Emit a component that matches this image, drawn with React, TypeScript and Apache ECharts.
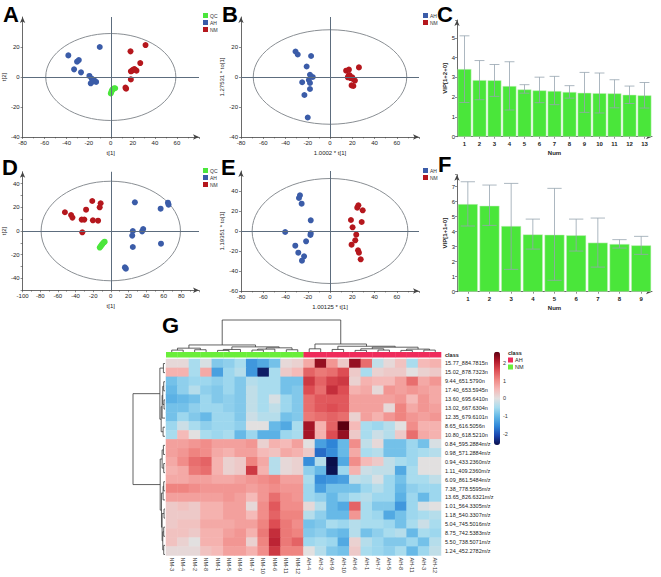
import React, { useEffect, useRef } from "react";
import * as echarts from "echarts";

const FONT = "'Liberation Sans', Arial, sans-serif";
const COL_QC = "#4be63c";
const COL_AH = "#3b5ca8";
const COL_NM = "#b5171d";
const AXIS_COL = "#444";

// ---------- Panel A (PCA) ----------
const A_QC = [[0, -11], [0.5, -10], [1, -9], [1.5, -8.5], [2, -8], [3, -7.5], [4, -7.5]];
const A_AH = [[-10, 20], [-38.5, 14.4], [-29, 11.3], [-30.6, 10.2], [-33.3, 5.1], [-27, 3.1], [-19.4, 0.7], [-17.3, -1.1], [-15.2, -2], [-13.3, -3.3], [-18.2, -4.2], [-16, -3]];
const A_NM = [[31.5, 21.3], [17.9, 17.1], [26.7, 9.3], [20, 4.7], [18.2, 3.8], [23.3, 4.2], [21.2, 5.3], [18.2, -1.6], [13.3, -7.1], [13.9, -7.8], [19, 4], [22, 5]];
const A_ELLIPSE = [59, 29];

// ---------- Panel B (OPLS-DA) ----------
const B_AH = [[-31, 17], [-29, 15], [-17, 14], [-21, 7], [-18, 1.5], [-15.5, 0], [-25, -3.5], [-19, -2], [-18, -4], [-18, -8], [-23, -12], [-20, -27]];
const B_NM = [[14.5, 4.2], [17, 4.9], [26, 6.4], [16.7, 0.7], [18.5, -0.7], [20.6, -1.3], [22.4, -2.4], [19.4, -5.6], [21, -6], [16, -0.2], [20, -0.2], [17.5, 1.3]];
const B_ELLIPSE = [69, 31.5];

// ---------- Panel C (VIP) ----------
const C_NUM = ["1", "2", "3", "4", "5", "6", "7", "8", "9", "10", "11", "12", "13"];
const C_VIP = [3.42, 2.86, 2.85, 2.56, 2.39, 2.34, 2.31, 2.26, 2.22, 2.2, 2.19, 2.12, 2.09];
const C_LOW = [1.73, 1.87, 2.04, 1.35, 2.2, 1.72, 1.62, 1.95, 1.23, 1.2, 1.46, 1.68, 1.45];
const C_HIGH = [5.1, 3.85, 3.65, 3.79, 2.63, 3.01, 3.05, 2.58, 3.25, 3.22, 2.88, 2.56, 2.74];

// ---------- Panel D (PCA) ----------
const D_QC = [[-12.5, -14], [-11.5, -13], [-10.5, -12], [-9.5, -11], [-8.5, -10], [-7.5, -9.5], [-7, -9]];
const D_AH = [[27.3, 24.2], [56.5, 18.8], [64.8, 23.9], [65.5, 22.2], [25, 0], [24.3, -3.9], [36.7, 1.7], [35.5, -0.3], [56.9, -10.7], [25, -13.5], [16, -30.7], [17.1, -31.8]];
const D_NM = [[-52, 15.8], [-45, 13.5], [-43.5, 11.3], [-28, 18], [-21, 25.3], [-33, 9.6], [-30, 9.6], [-20.3, 9], [-14.4, 8.7], [-12.6, 20], [-11.5, 23.4], [-32.3, -1.1]];
const D_ELLIPSE = [79, 42];

// ---------- Panel E (OPLS-DA) ----------
const E_AH = [[-27, 35.7], [-27.9, 33], [-25.5, 27.3], [-17.3, 10.7], [-17.3, -2.3], [-17.6, -4], [-21.5, -10.3], [-40.3, -1], [-31.2, -14.7], [-28.5, -21.7], [-23.3, -25.3], [-25.2, -29.7]];
const E_NM = [[25.5, 25.7], [24.5, 23.3], [29.4, 20.7], [18.8, 11], [28.5, 9], [20.3, 3.7], [23.6, -3.7], [22.7, -9.3], [19.4, -13.7], [25.2, -19.3], [26, -21.7], [27.6, -28.3]];
const E_ELLIPSE = [70, 52.5];

// ---------- Panel F (VIP) ----------
const F_NUM = ["1", "2", "3", "4", "5", "6", "7", "8", "9"];
const F_VIP = [5.84, 5.73, 4.38, 3.82, 3.8, 3.76, 3.27, 3.18, 3.09];
const F_LOW = [4.38, 4.42, 1.49, 2.84, 0.76, 2.71, 1.64, 2.91, 2.49];
const F_HIGH = [7.33, 7.11, 7.22, 4.84, 6.89, 4.84, 4.91, 3.47, 3.69];

// ---------- Panel G (heatmap) ----------
const G_SAMPLES = ["NM-3", "NM-4", "NM-2", "NM-8", "NM-1", "NM-5", "NM-9", "NM-7", "NM-10", "NM-6", "NM-11", "NM-12",
  "AH-4", "AH-2", "AH-9", "AH-10", "AH-6", "AH-1", "AH-7", "AH-5", "AH-8", "AH-11", "AH-3", "AH-12"];
const G_CLASS = ["NM", "NM", "NM", "NM", "NM", "NM", "NM", "NM", "NM", "NM", "NM", "NM",
  "AH", "AH", "AH", "AH", "AH", "AH", "AH", "AH", "AH", "AH", "AH", "AH"];
const G_FEATURES = ["15.77_884.7815n", "15.02_878.7323n", "9.44_651.5790n", "17.40_653.5945n", "13.60_695.6410n",
  "13.02_667.6304n", "12.35_679.6101n", "8.65_616.5056n", "10.80_618.5210n", "0.84_595.2884m/z", "0.98_571.2884m/z",
  "0.94_433.2360m/z", "1.11_409.2360m/z", "6.09_861.5484m/z", "7.38_778.5595m/z", "13.65_826.6321m/z",
  "1.01_564.3305m/z", "1.18_540.3307m/z", "5.04_745.5016m/z", "8.75_742.5383m/z", "5.50_738.5071m/z", "1.24_452.2782m/z"];
const G_VALUES = [
  [0.1, 0.1, -0.5, -0.1, -0.8, -0.7, -0.5, -1.4, -1.2, -0.9, 0.1, 0.2, 0.7, 2.3, 0.9, 0.3, 2.3, 1.3, -0.3, 0.1, 0.4, -0.5, 0.5, 0.6],
  [0.6, 0.6, -0.5, 0.7, -1.3, -0.6, -0.4, -1.4, -2.5, -0.5, 0.3, 0.5, 1.4, 1.2, 1.3, 1.6, 0.3, -0.5, 0.2, 0.3, 0.3, 0.0, 0.2, 0.3],
  [-0.9, -0.7, -0.6, -0.6, -0.7, -0.6, -0.8, -0.4, -0.5, -0.5, -0.9, -0.9, 1.8, 1.4, 1.7, 1.8, 0.2, 0.6, 0.5, 0.5, 0.8, 1.3, 0.7, 0.9],
  [-1.0, -0.7, -0.4, -0.7, -0.8, -0.6, -0.8, -0.3, -0.5, -0.5, -0.9, -0.8, 1.6, 1.3, 1.9, 1.6, 0.6, 0.7, 0.1, 0.9, 0.8, 0.9, 0.8, 0.7],
  [-1.1, -1.0, -0.9, -0.6, -0.8, -0.7, -0.8, -0.3, -0.5, -0.1, -0.6, -0.8, 1.3, 1.5, 1.5, 1.5, 0.8, 0.8, 0.8, 0.8, 0.9, 0.5, 0.9, 0.7],
  [-0.9, -0.9, -0.7, -0.6, -0.6, -0.7, -0.8, -0.3, -0.5, -0.3, -0.6, -0.8, 1.3, 1.5, 1.6, 1.5, 0.8, 0.8, 0.8, 0.1, 1.1, 0.7, 0.9, 0.8],
  [-0.9, -0.6, -0.8, -1.0, -0.6, -0.6, -0.8, -0.2, -0.4, -0.4, -0.9, -0.8, 1.2, 1.3, 1.4, 1.3, 0.2, 0.8, 0.6, 0.9, 1.1, 0.9, 0.8, 0.9],
  [-0.6, -0.2, -0.5, -0.7, -0.6, -0.6, -0.7, 0.0, 0.0, -1.0, -1.2, -0.5, 2.2, 0.6, 1.4, 2.8, 0.5, -0.5, -0.6, -0.4, 0.0, 1.0, 0.6, 0.6],
  [-0.5, 0.5, 0.0, -0.5, -0.6, -0.5, -1.0, -0.6, -1.1, -1.1, -0.6, -0.5, 2.2, 0.6, 1.6, 2.3, 0.3, -0.5, -0.2, -0.4, 0.3, 1.3, 0.7, 0.6],
  [0.8, 0.8, 0.9, 1.0, 0.8, 0.8, 0.8, 0.9, 0.2, 0.6, 0.5, 0.8, 0.0, -1.3, -1.6, -1.0, 1.0, -0.3, 0.1, -0.9, -0.9, -0.6, -0.9, -0.1],
  [0.8, 0.9, 1.1, 1.0, 0.7, 0.6, 0.8, 0.8, 0.5, 0.4, 0.7, 0.6, 0.3, -1.8, -1.5, -1.0, 0.7, -0.5, -0.4, -0.9, -0.9, -0.6, -0.5, -0.4],
  [0.7, 1.0, 1.3, 1.4, 0.6, 0.2, 0.3, 1.1, 0.7, -0.4, 0.1, 0.2, -1.5, -0.4, -2.7, -1.2, 1.0, 0.5, 0.3, -0.3, -0.5, -0.6, 0.0, 0.0],
  [0.6, 0.7, 1.2, 1.3, 0.6, 0.2, 0.3, 1.8, 0.6, -0.4, 0.1, 0.2, -0.7, -1.0, -2.6, -0.6, 0.6, -0.2, -0.3, -0.3, -1.2, -0.5, 0.0, 0.0],
  [0.7, 0.7, 0.8, 0.8, 0.7, 0.7, 0.8, 0.9, 1.0, 1.1, 0.8, 0.8, -0.5, -1.5, -1.4, -1.3, -0.3, -0.4, -0.1, -0.6, -0.9, -0.5, -0.5, -0.3],
  [1.1, 1.1, 1.0, 0.9, 0.9, 0.9, 0.9, 0.8, 0.9, 1.0, 0.9, 0.9, -0.6, -1.3, -0.9, -0.9, -0.9, -0.6, -0.4, -0.6, -1.0, -0.7, -0.6, -0.6],
  [0.8, 0.8, 0.8, 0.8, 0.8, 0.9, 0.8, 0.5, 0.9, 1.3, 1.0, 0.9, -0.6, -0.7, -1.0, -0.7, -0.5, -0.4, -0.6, -0.6, -1.1, -0.6, -1.0, -0.6],
  [0.3, 0.4, 0.3, 0.6, 0.6, 0.8, 0.8, 0.1, 1.0, 1.5, 1.0, 1.0, 0.1, -0.4, -1.0, -1.2, 1.4, -0.5, -0.8, -0.8, -1.4, -0.6, -0.1, 0.0],
  [0.3, 0.3, 0.3, 0.6, 0.6, 0.8, 0.8, 0.5, 1.0, 1.4, 1.1, 1.1, -0.4, -0.7, -1.0, -1.0, 0.9, -0.5, -0.6, -1.2, -0.9, -0.6, -0.5, -0.4],
  [0.3, 0.4, 0.4, 0.7, 0.7, 0.7, 0.8, 0.8, 1.1, 1.6, 1.2, 1.0, -0.9, -0.8, -0.5, -0.6, -0.4, -0.5, -0.5, -0.6, -0.9, -0.5, -0.2, -0.5],
  [0.4, 0.4, 0.3, 0.6, 0.6, 0.8, 0.9, 0.6, 1.2, 1.9, 1.2, 1.1, -0.8, -0.7, -0.9, -1.0, -0.4, -0.9, -0.7, -0.5, -0.4, -1.0, -0.5, -0.6],
  [0.4, 0.2, 0.0, 0.6, 0.6, 0.9, 0.9, 0.2, 1.1, 2.0, 1.2, 1.4, -0.6, -0.5, -0.6, -1.2, 0.2, -0.4, -0.6, -0.8, -0.8, -0.6, -0.9, -0.4],
  [0.1, 0.1, 0.1, 0.4, 0.5, 0.8, 0.8, 0.6, 1.0, 1.8, 1.1, 1.1, 0.0, -0.4, -0.8, -0.9, 0.3, -0.5, -0.6, -0.7, -0.5, -1.0, -0.6, -0.3],
];
const G_RANGE = [-2.65, 2.65];
const G_COLORS = ["#0a0e4a", "#1a44ae", "#2f86d8", "#5fb5e6", "#a6dcef", "#e2e0e0", "#f6b8b6", "#f08884", "#de4e54", "#b2182a", "#5c0010"];
// dendrogram merges: [pos1, h1, pos2, h2, hMerge]
const G_COL_TREE = [
  [0, 0, 1, 0, 0.06], [2, 0, 3, 0, 0.07], [0.5, 0.06, 2.5, 0.07, 0.12], [4, 0, 5, 0, 0.05], [4.5, 0.05, 6, 0, 0.08],
  [7, 0, 8, 0, 0.06], [7.5, 0.06, 9, 0, 0.09], [10, 0, 11, 0, 0.07], [8.25, 0.09, 10.5, 0.07, 0.13],
  [5.25, 0.08, 9.375, 0.13, 0.16], [1.5, 0.12, 7.3125, 0.16, 0.22],
  [12, 0, 13, 0, 0.1], [14, 0, 15, 0, 0.08], [16, 0, 17, 0, 0.05], [18, 0, 19, 0, 0.06], [16.5, 0.05, 18.5, 0.06, 0.1],
  [20, 0, 21, 0, 0.05], [22, 0, 23, 0, 0.06], [20.5, 0.05, 22.5, 0.06, 0.09], [17.5, 0.1, 21.5, 0.09, 0.15],
  [14.5, 0.08, 19.5, 0.15, 0.18], [12.5, 0.1, 17, 0.18, 0.25],
  [4.40625, 0.22, 14.75, 0.25, 1],
];
const G_ROW_TREE = [
  [0, 0, 1, 0, 0.05], [2, 0, 3, 0, 0.04], [4, 0, 5, 0, 0.03], [2.5, 0.04, 4.5, 0.03, 0.07], [3.5, 0.07, 6, 0, 0.09],
  [7, 0, 8, 0, 0.06], [4.75, 0.09, 7.5, 0.06, 0.12], [0.5, 0.05, 6.125, 0.12, 0.16],
  [9, 0, 10, 0, 0.05], [11, 0, 12, 0, 0.04], [9.5, 0.05, 11.5, 0.04, 0.09], [13, 0, 14, 0, 0.04], [13.5, 0.04, 15, 0, 0.06],
  [16, 0, 17, 0, 0.03], [18, 0, 19, 0, 0.04], [20, 0, 21, 0, 0.04], [18.5, 0.04, 20.5, 0.04, 0.07], [16.5, 0.03, 19.5, 0.07, 0.09],
  [14.25, 0.06, 18, 0.09, 0.11], [10.5, 0.09, 16.125, 0.11, 0.15],
  [3.3125, 0.16, 13.3125, 0.15, 1],
];
const CLASS_COLORS: Record<string, string> = { AH: "#ef2b5b", NM: "#6aee3a" };

const labelStyle = { fontSize: 6, color: "#222", fontFamily: FONT };
const nameStyle = { fontSize: 6, color: "#222", fontFamily: FONT };

function axisLineStyle() {
  return { show: true, onZero: false, lineStyle: { color: AXIS_COL, width: 0.8 }, symbol: ["none", "arrow"], symbolSize: [4, 6] };
}

function buildOption() {
  const grid: any[] = [];
  const xAxis: any[] = [];
  const yAxis: any[] = [];
  const series: any[] = [];
  const legend: any[] = [];

  const zeroLines = {
    silent: true, symbol: "none", label: { show: false }, animation: false,
    lineStyle: { color: "#5d6d7e", width: 1, type: "solid" },
    data: [{ xAxis: 0 }, { yAxis: 0 }],
  };

  function scatterPanel(p: any) {
    const gi = grid.length;
    grid.push({ left: p.left, top: p.top, width: p.width, height: p.height });
    xAxis.push({
      type: "value", gridIndex: gi, min: p.xMin, max: p.xMax, interval: 20,
      name: p.xName, nameLocation: "middle", nameGap: 13, nameTextStyle: nameStyle,
      axisLine: axisLineStyle(),
      axisTick: { show: true, length: 2, lineStyle: { color: AXIS_COL, width: 0.6 } },
      minorTick: { show: true, splitNumber: 2, length: 1.5, lineStyle: { color: AXIS_COL, width: 0.5 } },
      axisLabel: { ...labelStyle, margin: 3, showMaxLabel: false },
      splitLine: { show: false },
    });
    yAxis.push({
      type: "value", gridIndex: gi, min: p.yMin, max: p.yMax, interval: p.yInterval,
      name: p.yName, nameLocation: "middle", nameGap: p.yGap, nameRotate: 90, nameTextStyle: nameStyle,
      axisLine: axisLineStyle(),
      axisTick: { show: true, length: 2, lineStyle: { color: AXIS_COL, width: 0.6 } },
      axisLabel: { ...labelStyle, margin: 3, showMaxLabel: false, formatter: p.yFormatter },
      splitLine: { show: false },
    });
    series.push({
      type: "custom", xAxisIndex: gi, yAxisIndex: gi, silent: true, z: 2,
      data: [p.ellipse],
      renderItem: (params: any, api: any) => {
        const c = api.coord([0, 0]);
        const e = api.coord([api.value(0), api.value(1)]);
        return {
          type: "ellipse",
          shape: { cx: c[0], cy: c[1], rx: Math.abs(e[0] - c[0]), ry: Math.abs(c[1] - e[1]) },
          style: { fill: "none", stroke: "#8a8f94", lineWidth: 1 },
        };
      },
    });
    p.groups.forEach((g: any, k: number) => {
      series.push({
        type: "scatter", name: g.name, xAxisIndex: gi, yAxisIndex: gi, data: g.data, symbolSize: 6, z: 3,
        itemStyle: { color: g.color, opacity: 1 },
        markLine: k === 0 ? zeroLines : undefined,
      });
    });
    legend.push({
      left: p.legendLeft, top: p.legendTop, orient: "vertical", icon: "rect", itemWidth: 5, itemHeight: 5,
      itemGap: 2, padding: 0, selectedMode: false,
      textStyle: { fontSize: 5, color: "#333", fontFamily: FONT, padding: [0, 0, 0, -3] },
      data: p.groups.map((g: any) => g.name),
    });
  }

  function vipPanel(p: any) {
    const gi = grid.length;
    grid.push({ left: p.left, top: p.top, width: p.width, height: p.height });
    xAxis.push({
      type: "category", gridIndex: gi, data: p.cats, boundaryGap: true,
      name: "Num", nameLocation: "middle", nameGap: 13, nameTextStyle: { ...nameStyle, fontWeight: "bold" },
      axisLine: axisLineStyle(),
      axisTick: { show: true, length: 2, alignWithLabel: true, lineStyle: { color: AXIS_COL, width: 0.6 } },
      axisLabel: { ...labelStyle, margin: 4, interval: 0, fontWeight: "bold" },
      splitLine: { show: false },
    });
    yAxis.push({
      type: "value", gridIndex: gi, min: 0, max: p.yMax, interval: 1,
      name: p.yName, nameLocation: "middle", nameGap: 8, nameRotate: 90, nameTextStyle: { ...nameStyle, fontWeight: "bold" },
      axisLine: axisLineStyle(),
      axisTick: { show: true, length: 2, lineStyle: { color: AXIS_COL, width: 0.6 } },
      axisLabel: { ...labelStyle, margin: 2, formatter: (v: number) => (Number.isInteger(v) ? String(v) : "") },
      splitLine: { show: false },
    });
    series.push({
      type: "bar", xAxisIndex: gi, yAxisIndex: gi, data: p.vip, barCategoryGap: "8%", z: 2,
      itemStyle: { color: "#4ae63a", borderColor: "#cfeec8", borderWidth: 0.5 },
    });
    series.push({
      type: "custom", xAxisIndex: gi, yAxisIndex: gi, silent: true, z: 3,
      data: p.vip.map((_: number, i: number) => [i, p.low[i], p.high[i]]),
      renderItem: (params: any, api: any) => {
        const x = api.value(0);
        const top = api.coord([x, api.value(2)]);
        const bot = api.coord([x, api.value(1)]);
        const w = api.size([1, 0])[0] * 0.33;
        const st = { stroke: "#97a4b0", lineWidth: 0.8 };
        return {
          type: "group",
          children: [
            { type: "line", shape: { x1: top[0], y1: top[1], x2: bot[0], y2: bot[1] }, style: st },
            { type: "line", shape: { x1: top[0] - w, y1: top[1], x2: top[0] + w, y2: top[1] }, style: st },
            { type: "line", shape: { x1: bot[0] - w, y1: bot[1], x2: bot[0] + w, y2: bot[1] }, style: st },
          ],
        };
      },
    });
  }

  scatterPanel({
    left: 21, top: 17, width: 178, height: 120, xMin: -80, xMax: 80, yMin: -40, yMax: 40, yInterval: 20,
    xName: "t[1]", yName: "t[2]", yGap: 14, ellipse: A_ELLIPSE, legendLeft: 203, legendTop: 13,
    groups: [{ name: "QC", data: A_QC, color: COL_QC }, { name: "AH", data: A_AH, color: COL_AH }, { name: "NM", data: A_NM, color: COL_NM }],
  });
  scatterPanel({
    left: 241, top: 17, width: 178, height: 120, xMin: -80, xMax: 80, yMin: -40, yMax: 40, yInterval: 20,
    xName: "1.0002 * t[1]", yName: "1.27531 * to[1]", yGap: 14, ellipse: B_ELLIPSE, legendLeft: 423, legendTop: 13,
    groups: [{ name: "AH", data: B_AH, color: COL_AH }, { name: "NM", data: B_NM, color: COL_NM }],
  });
  vipPanel({ left: 457, top: 20, width: 195, height: 116.7, yMax: 5.9, cats: C_NUM, vip: C_VIP, low: C_LOW, high: C_HIGH, yName: "VIP[1+2+0]" });
  scatterPanel({
    left: 21, top: 171.75, width: 178, height: 118.5, xMin: -100, xMax: 100, yMin: -50, yMax: 50, yInterval: 10,
    yFormatter: (v: number) => (v % 20 === 0 ? String(v) : ""),
    xName: "t[1]", yName: "t[2]", yGap: 14, ellipse: D_ELLIPSE, legendLeft: 203, legendTop: 168,
    groups: [{ name: "QC", data: D_QC, color: COL_QC }, { name: "AH", data: D_AH, color: COL_AH }, { name: "NM", data: D_NM, color: COL_NM }],
  });
  scatterPanel({
    left: 241, top: 171, width: 178, height: 120, xMin: -80, xMax: 80, yMin: -60, yMax: 60, yInterval: 20,
    xName: "1.00125 * t[1]", yName: "1.19351 * to[1]", yGap: 14, ellipse: E_ELLIPSE, legendLeft: 423, legendTop: 168,
    groups: [{ name: "AH", data: E_AH, color: COL_AH }, { name: "NM", data: E_NM, color: COL_NM }],
  });
  vipPanel({ left: 457, top: 174.7, width: 195, height: 117, yMax: 7.8, cats: F_NUM, vip: F_VIP, low: F_LOW, high: F_HIGH, yName: "VIP[1+1+0]" });

  // ---- heatmap ----
  const hmGi = grid.length;
  grid.push({ left: 166, top: 359, width: 275, height: 200 });
  xAxis.push({
    type: "category", gridIndex: hmGi, data: G_SAMPLES, position: "bottom",
    axisLine: { show: false }, axisTick: { show: false }, splitLine: { show: false },
    axisLabel: { fontSize: 5.5, color: "#333", fontFamily: FONT, rotate: -90, margin: 2, interval: 0 },
  });
  yAxis.push({
    type: "category", gridIndex: hmGi, data: G_FEATURES, inverse: true, position: "right",
    axisLine: { show: false }, axisTick: { show: false }, splitLine: { show: false },
    axisLabel: { fontSize: 5.5, color: "#222", fontFamily: FONT, margin: 4, interval: 0 },
  });
  const hmData: number[][] = [];
  G_VALUES.forEach((row, j) => row.forEach((v, i) => hmData.push([i, j, v])));
  const hmSeriesIndex = series.length;
  series.push({ type: "heatmap", xAxisIndex: hmGi, yAxisIndex: hmGi, data: hmData, itemStyle: { borderWidth: 0 } });

  // class strip
  const stGi = grid.length;
  grid.push({ left: 166, top: 352, width: 275, height: 5.5 });
  xAxis.push({ type: "category", gridIndex: stGi, data: G_SAMPLES, show: false });
  yAxis.push({
    type: "category", gridIndex: stGi, data: ["class"], position: "right",
    axisLine: { show: false }, axisTick: { show: false }, splitLine: { show: false },
    axisLabel: { fontSize: 5.5, color: "#222", fontFamily: FONT, fontWeight: "bold", margin: 4 },
  });
  series.push({
    type: "custom", xAxisIndex: stGi, yAxisIndex: stGi, silent: true,
    data: G_CLASS.map((c, i) => [i, 0, c === "AH" ? 1 : 0]),
    renderItem: (params: any, api: any) => {
      const p = api.coord([api.value(0), api.value(1)]);
      const s = api.size([1, 1]);
      return {
        type: "rect",
        shape: { x: p[0] - s[0] / 2, y: p[1] - s[1] / 2, width: s[0] + 0.3, height: s[1] },
        style: { fill: api.value(2) === 1 ? CLASS_COLORS.AH : CLASS_COLORS.NM },
      };
    },
  });

  // column dendrogram
  const cdGi = grid.length;
  grid.push({ left: 166, top: 320, width: 275, height: 32 });
  xAxis.push({ type: "value", gridIndex: cdGi, min: -0.5, max: 23.5, show: false });
  yAxis.push({ type: "value", gridIndex: cdGi, min: 0, max: 1, show: false });
  series.push({
    type: "custom", xAxisIndex: cdGi, yAxisIndex: cdGi, silent: true, data: G_COL_TREE,
    renderItem: (params: any, api: any) => {
      const a = api.coord([api.value(0), api.value(1)]);
      const b = api.coord([api.value(0), api.value(4)]);
      const c = api.coord([api.value(2), api.value(4)]);
      const d = api.coord([api.value(2), api.value(3)]);
      return { type: "polyline", shape: { points: [a, b, c, d] }, style: { stroke: "#3a3a3a", lineWidth: 0.8, fill: "none" } };
    },
  });

  // row dendrogram
  const rdGi = grid.length;
  grid.push({ left: 133, top: 359, width: 32, height: 200 });
  xAxis.push({ type: "value", gridIndex: rdGi, min: 0, max: 1, inverse: true, show: false });
  yAxis.push({ type: "value", gridIndex: rdGi, min: -0.5, max: 21.5, inverse: true, show: false });
  series.push({
    type: "custom", xAxisIndex: rdGi, yAxisIndex: rdGi, silent: true, data: G_ROW_TREE,
    renderItem: (params: any, api: any) => {
      const a = api.coord([api.value(1), api.value(0)]);
      const b = api.coord([api.value(4), api.value(0)]);
      const c = api.coord([api.value(4), api.value(2)]);
      const d = api.coord([api.value(3), api.value(2)]);
      return { type: "polyline", shape: { points: [a, b, c, d] }, style: { stroke: "#3a3a3a", lineWidth: 0.8, fill: "none" } };
    },
  });

  // colorbar tick axis
  const cbGi = grid.length;
  grid.push({ left: 494, top: 351.7, width: 6, height: 93.3 });
  xAxis.push({ type: "value", gridIndex: cbGi, min: 0, max: 1, show: false });
  yAxis.push({
    type: "value", gridIndex: cbGi, min: G_RANGE[0], max: G_RANGE[1], position: "right",
    axisLine: { show: false }, axisTick: { show: false }, splitLine: { show: false },
    axisLabel: { fontSize: 5.5, color: "#333", fontFamily: FONT, margin: 3, formatter: (v: number) => (Number.isInteger(v) ? String(v) : "") },
  });

  const letter = (t: string, x: number, y: number) => ({
    type: "text", left: x, top: y,
    style: { text: t, fontSize: 22, fontWeight: "bold", fontFamily: FONT, fill: "#000" },
  });

  return {
    animation: false,
    backgroundColor: "#fff",
    textStyle: { fontFamily: FONT },
    grid, xAxis, yAxis, series, legend,
    visualMap: [{
      type: "continuous", seriesIndex: hmSeriesIndex, min: G_RANGE[0], max: G_RANGE[1],
      orient: "vertical", left: 494, top: 351.7, itemWidth: 6, itemHeight: 93.3, padding: 0,
      calculable: false, text: null, textStyle: { fontSize: 5 },
      inRange: { color: G_COLORS },
    }],
    graphic: [
      letter("A", 3, 3), letter("B", 222, 3), letter("C", 437, 3),
      letter("D", 2, 156), letter("E", 221, 156), letter("F", 438, 153), letter("G", 162, 314),
      { type: "text", left: 508, top: 350, style: { text: "class", fontSize: 5.5, fontWeight: "bold", fontFamily: FONT, fill: "#222" } },
      { type: "rect", left: 508, top: 357.5, shape: { width: 5, height: 5 }, style: { fill: CLASS_COLORS.AH } },
      { type: "text", left: 515, top: 357.3, style: { text: "AH", fontSize: 5.5, fontFamily: FONT, fill: "#222" } },
      { type: "rect", left: 508, top: 364.5, shape: { width: 5, height: 5 }, style: { fill: CLASS_COLORS.NM } },
      { type: "text", left: 515, top: 364.3, style: { text: "NM", fontSize: 5.5, fontFamily: FONT, fill: "#222" } },
    ],
  };
}

export default function App() {
  const ref = useRef<HTMLDivElement>(null);
  useEffect(() => {
    if (!ref.current) return;
    const chart = echarts.init(ref.current, null, { renderer: "svg" });
    chart.setOption(buildOption() as any);
    return () => chart.dispose();
  }, []);
  return (
    <div
      ref={ref}
      style={{ position: "absolute", left: 0, top: 0, width: 661, height: 577, background: "#fff" }}
    />
  );
}
